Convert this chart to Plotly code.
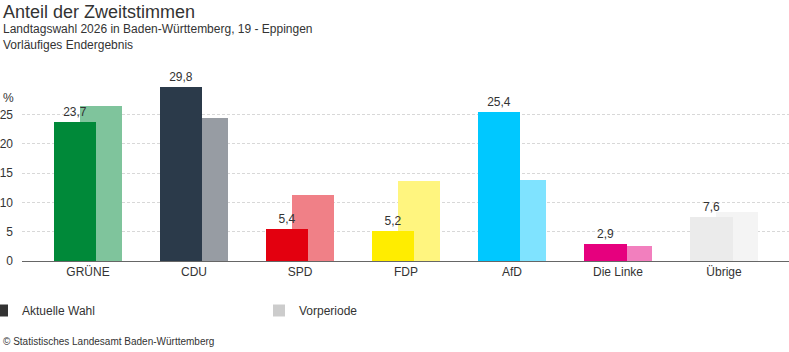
import plotly.graph_objects as go

parties = ["GRÜNE", "CDU", "SPD", "FDP", "AfD", "Die Linke", "Übrige"]
current = [23.7, 29.8, 5.4, 5.2, 25.4, 2.9, 7.6]
previous = [26.4, 24.5, 11.2, 13.6, 13.8, 2.6, 8.4]
current_colors = ["#008939", "#2b3a4a", "#e3000f", "#ffed00", "#00c8ff", "#e6007e", "#ebebeb"]
previous_colors = ["#7fc49c", "#979ca3", "#f08087", "#fff57f", "#7fe3ff", "#f27fbe", "#f4f4f4"]
y_ticks = [0, 5, 10, 15, 20, 25]

FONT = "Arial, 'Liberation Sans', sans-serif"
TXT = "#333333"

W, H = 789, 352
L, R, T, B = 22, 0, 86, 91

fig = go.Figure()

fig.add_trace(go.Bar(
    x=parties, y=previous, name="Vorperiode", showlegend=False,
    marker=dict(color=previous_colors, line=dict(width=0)),
    width=0.4, offset=-0.075, hoverinfo="skip",
))
fig.add_trace(go.Bar(
    x=parties, y=current, name="Aktuelle Wahl", showlegend=False,
    marker=dict(color=current_colors, line=dict(width=0)),
    width=0.4, offset=-0.32,
    text=current, texttemplate="%{y:.1f}", textposition="outside",
    textfont=dict(family=FONT, size=12, color=TXT), cliponaxis=False,
    hoverinfo="skip",
))
# legend entries
fig.add_trace(go.Scatter(x=[None], y=[None], mode="markers", name="Aktuelle Wahl",
                         marker=dict(symbol="square", size=9, color="#333333")))
fig.add_trace(go.Scatter(x=[None], y=[None], mode="markers", name="Vorperiode",
                         marker=dict(symbol="square", size=9, color="#cccccc")))

def ypaper(px):
    return (H - B - px) / (H - T - B)

def xpaper(px):
    return (px - L) / (W - L - R)

fig.update_layout(
    width=W, height=H,
    margin=dict(l=L, r=R, t=T, b=B, pad=0, autoexpand=False),
    paper_bgcolor="white", plot_bgcolor="white",
    barmode="overlay", bargap=0,
    separators=",.",
    font=dict(family=FONT, size=12, color=TXT),
    showlegend=True,
    legend=dict(orientation="h", x=xpaper(-18), xanchor="left", y=ypaper(296), yanchor="top",
                entrywidth=232, entrywidthmode="pixels",
                font=dict(family=FONT, size=12, color=TXT), itemsizing="constant",
                bgcolor="rgba(0,0,0,0)"),
    xaxis=dict(range=[-0.6226, 6.613], showgrid=False, showline=True, linecolor="#666666",
               linewidth=1, ticks="", tickfont=dict(family=FONT, size=12, color=TXT),
               fixedrange=True, automargin=False),
    yaxis=dict(range=[0, 29.9], tickvals=y_ticks, ticktext=[str(v) for v in y_ticks],
               showgrid=True, gridcolor="#d8d8d8", griddash="3px,2px", gridwidth=1,
               zeroline=False, showline=False, ticks="", ticklabelstandoff=8,
               tickfont=dict(family=FONT, size=12, color=TXT), fixedrange=True,
               automargin=False),
)

anns = [
    dict(text="Anteil der Zweitstimmen", x=xpaper(1), y=ypaper(0), size=18),
    dict(text="Landtagswahl 2026 in Baden-Württemberg, 19 - Eppingen", x=xpaper(1), y=ypaper(20), size=12),
    dict(text="Vorläufiges Endergebnis", x=xpaper(1), y=ypaper(36), size=12),
    dict(text="%", x=xpaper(1), y=ypaper(89), size=12),
    dict(text="© Statistisches Landesamt Baden-Württemberg", x=xpaper(1), y=ypaper(334), size=10),
]
for a in anns:
    fig.add_annotation(text=a["text"], x=a["x"], y=a["y"], xref="paper", yref="paper",
                       xanchor="left", yanchor="top", showarrow=False,
                       font=dict(family=FONT, size=a["size"], color=TXT))

fig.write_html("out.html", config={"displayModeBar": False})
